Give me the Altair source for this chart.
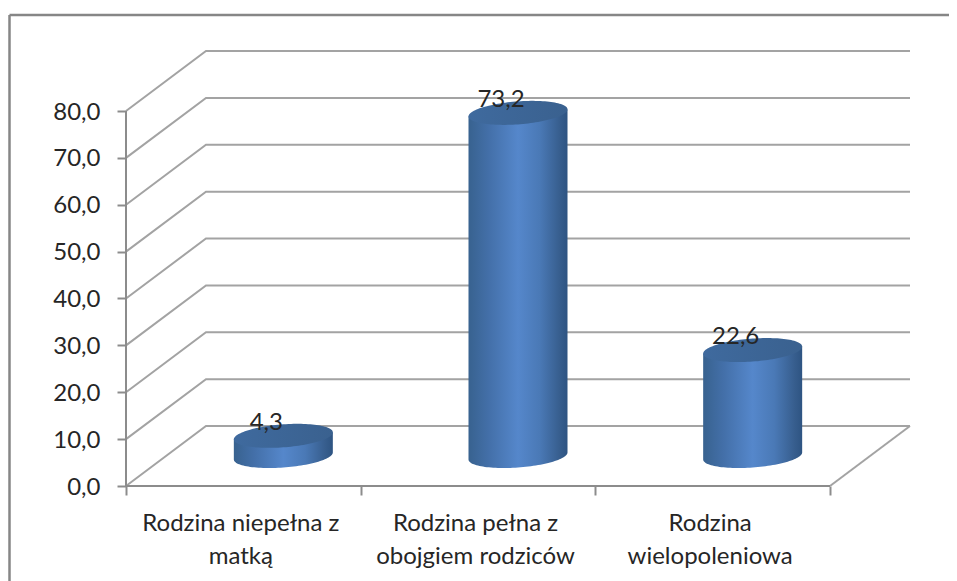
import json
import numpy as np
import pandas as pd
import altair as alt

CATEGORIES = [["Rodzina niepełna z", "matką"],
              ["Rodzina pełna z", "obojgiem rodziców"],
              ["Rodzina", "wielopoleniowa"]]
VALUES = [4.3, 73.2, 22.6]
LABELS = ["4,3", "73,2", "22,6"]
Y_TICKS = [0, 10, 20, 30, 40, 50, 60, 70, 80]

# chart geometry, expressed in axis units
W, H = 941, 573
PX_X = 704 / 3          # pixels per category
PX_Y = 375 / 80         # pixels per value unit
X0_PX, Y0_PX = 118, 478 # origin inside the plot area
X_DOMAIN = [-X0_PX / PX_X, (W - X0_PX) / PX_X]
Y_DOMAIN = [-(H - Y0_PX) / PX_Y, Y0_PX / PX_Y]
DX = 80 / PX_X          # depth of the floor
DY = 60 / PX_Y
R_X = 49.5 / PX_X       # cylinder radius
R_Y = 11.5 / PX_Y
SHEAR = 3.5 / PX_Y
FRAME_X = X_DOMAIN[0] + 1.5 / PX_X
FRAME_Y = Y_DOMAIN[1] - 7 / PX_Y

GRID = "#a3a3a3"
AXIS = "#8c8c8c"
FRAME = "#868686"
TEXT = "#262626"
FONT = "Lato"
FS = 24

label_list = []
for c in CATEGORIES:
    label_list += ["", c]
label_list.append("")

xs = alt.Scale(domain=X_DOMAIN, nice=False, zero=False)
ys = alt.Scale(domain=Y_DOMAIN, nice=False, zero=False)
x_axis = alt.Axis(
    values=[0, .5, 1, 1.5, 2, 2.5, 3], offset=-(H - Y0_PX), domain=False, grid=False,
    tickSize=9, tickWidth=2, tickColor=AXIS,
    tickOpacity={"expr": "datum.value % 1 == 0 ? 1 : 0"},
    labelExpr=json.dumps(label_list, ensure_ascii=False) + "[round(datum.value * 2)]",
    labelFont=FONT, labelFontSize=FS, labelColor=TEXT, labelPadding=16, labelLimit=400,
    labelOffset=-3,
    labelLineHeight=33, labelOverlap=False, labelFlush=False, labelBound=False,
    labelBaseline="top")
y_axis = alt.Axis(
    values=Y_TICKS, offset=-X0_PX, domain=False, grid=False,
    tickSize=9, tickWidth=2, tickColor=AXIS,
    labelExpr="replace(format(datum.value, '.1f'), '.', ',')",
    labelFont=FONT, labelFontSize=FS, labelColor=TEXT, labelPadding=17, labelOffset=1,
    labelOverlap=False, labelFlush=False, labelBound=False)
X = lambda f="x": alt.X(f"{f}:Q", scale=xs, axis=x_axis, title=None)
Y = lambda f="y": alt.Y(f"{f}:Q", scale=ys, axis=y_axis, title=None)

# wireframe
wire = []
for v in Y_TICKS:
    wire += [dict(k=f"g{v}", o=0, x=0, y=v), dict(k=f"g{v}", o=1, x=DX, y=v + DY),
             dict(k=f"g{v}", o=2, x=3 + DX, y=v + DY)]
wire += [dict(k="floor", o=0, x=3 + DX, y=DY), dict(k="floor", o=1, x=3, y=0)]
grid = alt.Chart(pd.DataFrame(wire)).mark_line(color=GRID, strokeWidth=2).encode(
    x=X(), y=Y(), detail="k:N", order="o:Q")

# frame (top and left only, it runs off the picture) and axis lines
rules = pd.DataFrame([
    dict(x=FRAME_X, x2=X_DOMAIN[1], y=FRAME_Y, y2=FRAME_Y, c="f"),
    dict(x=FRAME_X, x2=FRAME_X, y=FRAME_Y, y2=Y_DOMAIN[0], c="f"),
    dict(x=0, x2=0, y=0, y2=80, c="a"),
    dict(x=0, x2=3, y=0, y2=0, c="a"),
])
frame = alt.Chart(rules[rules.c == "f"]).mark_rule(color=FRAME, strokeWidth=2.5).encode(
    x=X(), x2="x2:Q", y=Y(), y2="y2:Q")
axes_lines = alt.Chart(rules[rules.c == "a"]).mark_rule(color=AXIS, strokeWidth=2).encode(
    x=X(), x2="x2:Q", y=Y(), y2="y2:Q")

# cylinders
u = np.cos(np.linspace(np.pi, 0, 61))
root = np.sqrt(np.clip(1 - u * u, 0, 1))
body_rows, top_rows, label_rows = [], [], []
for i, (v, lab) in enumerate(zip(VALUES, LABELS)):
    cx = i + 0.5 + DX / 2
    base = DY / 2
    top = base + v
    for a, r in zip(u, root):
        x = cx + R_X * a
        body_rows.append(dict(k=i, x=x, y=base - R_Y * r + SHEAR * a, y2=top + SHEAR * a))
        top_rows.append(dict(k=i, x=x, y=top - R_Y * r + SHEAR * a, y2=top + R_Y * r + SHEAR * a))
    label_rows.append(dict(x=cx, y=top, t=lab))

body_grad = alt.Gradient(gradient="linear", x1=0, x2=1, y1=0, y2=0, stops=[
    alt.GradientStop(color="#38628f", offset=0),
    alt.GradientStop(color="#436fa8", offset=0.2),
    alt.GradientStop(color="#5587cb", offset=0.5),
    alt.GradientStop(color="#4a79b6", offset=0.72),
    alt.GradientStop(color="#375e8e", offset=0.92),
    alt.GradientStop(color="#2e5482", offset=1),
])
top_grad = alt.Gradient(gradient="linear", x1=0, x2=1, y1=0, y2=0, stops=[
    alt.GradientStop(color="#3f6a9e", offset=0),
    alt.GradientStop(color="#3a618f", offset=1),
])
bodies = [alt.Chart(pd.DataFrame(body_rows).query(f"k == {i}")).mark_area(color=body_grad, interpolate="linear")
          .encode(x=X(), y=Y(), y2="y2:Q") for i in range(3)]
tops = [alt.Chart(pd.DataFrame(top_rows).query(f"k == {i}")).mark_area(color=top_grad, interpolate="linear")
        .encode(x=X(), y=Y(), y2="y2:Q") for i in range(3)]

labels = alt.Chart(pd.DataFrame(label_rows)).mark_text(
    font=FONT, fontSize=FS, color=TEXT, dx=-17, dy=-13, align="center", baseline="middle").encode(
    x=X(), y=Y(), text="t:N")

chart = alt.layer(frame, grid, axes_lines, *bodies, *tops, labels).properties(
    width=W, height=H, padding=0, background="white",
    autosize=alt.AutoSizeParams(type="none"),
).configure_view(stroke=None)

chart.save("out.html", embed_options={"renderer": "svg", "actions": False})
